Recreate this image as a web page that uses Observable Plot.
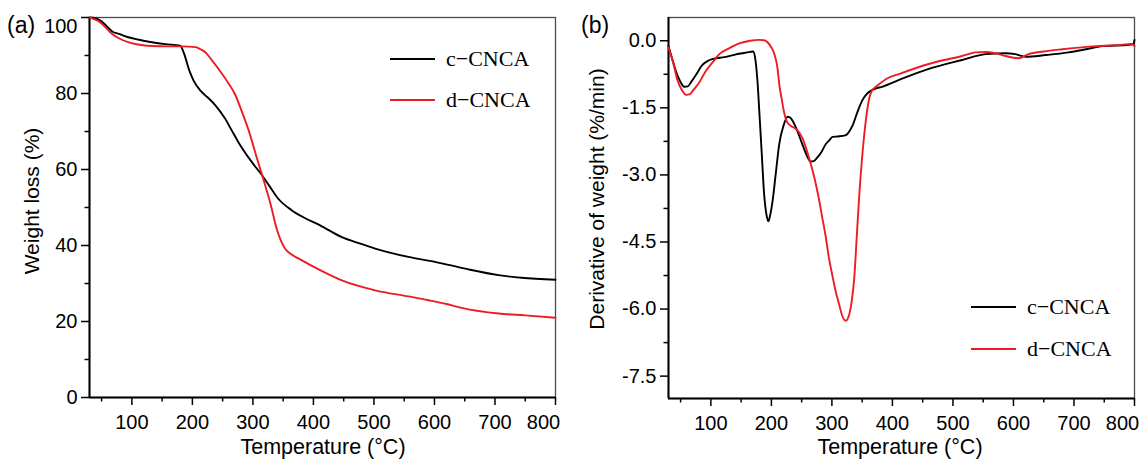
<!DOCTYPE html>
<html><head><meta charset="utf-8">
<script src="https://cdn.jsdelivr.net/npm/d3@7"></script>
<script src="https://cdn.jsdelivr.net/npm/@observablehq/plot@0.6"></script>
<style>
body{margin:0;background:#fff;}
#wrap{position:relative;width:1142px;height:461px;overflow:hidden;font-family:"Liberation Sans",Arial,sans-serif;color:#000;background:#fff;}
.panel{position:absolute;top:0;}
.lbl{position:absolute;font-size:21px;white-space:nowrap;line-height:1;}
.rot{transform:translate(-50%,-50%) rotate(-90deg);}
.leg{position:absolute;display:flex;align-items:center;height:24px;font-family:"Liberation Serif","Times New Roman",serif;font-size:22px;line-height:1;white-space:nowrap;}
.sw{display:inline-block;width:45px;height:2px;margin-right:11px;}
</style></head>
<body>
<div id="wrap"></div>
<script>
// ---------- data ----------
const seriesNames = ["c\u2212CNCA", "d\u2212CNCA"];
const seriesColors = ["#000000", "#ed1c24"];

// (a) TGA: temperature (°C) and weight (%)
const tgaTempC = [30,40,48,58,67,80,94,110,133,155,180,186,195,202,213,225,238,254,265,276,298,315,328,342,364,385,411,447,475,502,557,601,651,706,744,800];
const tgaWeightC = [100,99.8,99.2,97.8,96.4,95.6,94.8,94.2,93.5,93.0,92.6,90.6,86,83.4,80.8,79,76.9,73.4,70.3,67.2,62,58.5,55.5,52.3,49.3,47.3,45.3,42.2,40.6,39.2,37.0,35.7,33.9,32.2,31.5,31.0];
const tgaTempD = [30,45,56,67,80,94,110,133,160,183,205,214,221,232,243,262,271,279,293,306,317,329,340,347,353,362,375,411,447,502,557,590,620,645,706,750,800];
const tgaWeightD = [100,99,97.5,95.7,94.4,93.5,92.9,92.5,92.4,92.4,92.2,91.6,90.9,88.8,86.5,82.1,79.6,76.4,70.3,63.3,57.6,51.0,44.0,41,39.2,37.8,36.6,33.5,30.8,28.2,26.6,25.6,24.6,23.6,22.1,21.6,21.0];

// (b) DTG: temperature (°C) and derivative of weight (%/min)
const dtgTempC = [30,36,42,49,56,62,67,76,86,95,103,115,125,140,152,165,170,173,177,180,184,188,192,195,198,202,207,213,220,227,232,235,243,251,258,265,270,276,283,290,296,301,310,323,330,334,342,350,357,364,372,383,414,460,515,554,587,603,620,653,691,720,747,791,798,800];
const dtgRateC = [-0.12,-0.40,-0.67,-0.90,-1.03,-1.02,-0.93,-0.75,-0.54,-0.45,-0.41,-0.38,-0.36,-0.31,-0.28,-0.25,-0.24,-0.37,-0.9,-1.57,-2.5,-3.43,-3.9,-4.04,-3.9,-3.58,-3.0,-2.31,-1.9,-1.70,-1.73,-1.79,-2.02,-2.31,-2.55,-2.70,-2.69,-2.61,-2.48,-2.31,-2.22,-2.15,-2.14,-2.11,-2.0,-1.90,-1.6,-1.34,-1.2,-1.12,-1.07,-1.03,-0.86,-0.63,-0.43,-0.30,-0.28,-0.30,-0.36,-0.32,-0.26,-0.19,-0.12,-0.09,-0.08,0.02];
const dtgTempD = [30,37,45,52,59,65,70,80,92,103,114,130,147,165,180,188,194,200,205,210,213,217,221,226,232,240,246,252,257,264,271,278,284,290,295,300,306,312,317,323,328,333,337,341,345,350,356,362,366,370,380,389,414,460,515,537,555,570,587,600,609,617,625,650,681,736,770,796,800];
const dtgRateD = [-0.15,-0.45,-0.89,-1.1,-1.21,-1.2,-1.12,-0.95,-0.67,-0.48,-0.30,-0.17,-0.06,0.0,0.02,0.01,-0.04,-0.15,-0.30,-0.6,-0.97,-1.3,-1.60,-1.82,-1.90,-1.97,-2.05,-2.2,-2.39,-2.7,-3.06,-3.5,-3.95,-4.4,-4.85,-5.2,-5.59,-5.9,-6.15,-6.26,-6.15,-5.8,-5.29,-4.4,-3.50,-2.6,-1.79,-1.27,-1.12,-1.06,-0.95,-0.86,-0.73,-0.52,-0.34,-0.26,-0.25,-0.28,-0.34,-0.38,-0.39,-0.35,-0.30,-0.24,-0.19,-0.12,-0.10,-0.07,-0.12];

// axes
const xDomain = [30, 800];
const xMajor = [100,200,300,400,500,600,700,800];
const xMinor = [50,150,250,350,450,550,650,750];
const tgaYDomain = [0, 100];
const tgaYMajor = [0,20,40,60,80,100];
const tgaYMinor = [10,30,50,70,90];
const dtgYDomain = [-8.0, 0.52];
const dtgYMajor = [0,-1.5,-3.0,-4.5,-6.0,-7.5];
const dtgYMinor = [-0.75,-2.25,-3.75,-5.25,-6.75];
const xTitle = "Temperature (\u00B0C)";
const tgaYTitle = "Weight loss (%)";
const dtgYTitle = "Derivative of weight (%/min)";

const zipRows = (xs, ys) => xs.map((x, i) => ({x, y: ys[i]}));
const tgaC = zipRows(tgaTempC, tgaWeightC), tgaD = zipRows(tgaTempD, tgaWeightD);
const dtgC = zipRows(dtgTempC, dtgRateC), dtgD = zipRows(dtgTempD, dtgRateD);

const style = {fontFamily: '"Liberation Sans", Arial, sans-serif', fontSize: "20px", color: "#000", background: "transparent", overflow: "visible"};

function panel({data, yDomain, yMajor, yMinor, yFmt, m, yEdgeLabel, yEdgeDy}) {
  const yMain = yMajor.filter(d => d !== yEdgeLabel);
  return Plot.plot({
    width: 571, height: 461,
    marginLeft: m[0], marginRight: m[1], marginTop: m[2], marginBottom: m[3],
    x: {domain: xDomain},
    y: {domain: yDomain},
    style,
    marks: [
      Plot.frame({stroke: "#4a4a4a", strokeWidth: 1.3}),
      Plot.ruleX([xDomain[0]], {stroke: "#000", strokeWidth: 2}),
      Plot.ruleY([yDomain[0]], {stroke: "#000", strokeWidth: 2}),
      Plot.line(data[0], {x: "x", y: "y", stroke: seriesColors[0], strokeWidth: 1.9, curve: "monotone-x"}),
      Plot.line(data[1], {x: "x", y: "y", stroke: seriesColors[1], strokeWidth: 1.9, curve: "monotone-x"}),
      // x axis
      Plot.axisX({ticks: xMajor, tickSize: 8, tickPadding: 9, strokeWidth: 1.5, fontSize: 20, label: null,
        tickFormat: d => d === xDomain[1] ? "" : String(d)}),
      Plot.axisX({ticks: [xDomain[1]], tickSize: 0, tickPadding: 17, dx: -12, fontSize: 20, label: null, tickFormat: d => String(d)}),
      Plot.axisX({ticks: xMinor, tickSize: 4.5, strokeWidth: 1.5, label: null, tickFormat: () => ""}),
      // y axis
      Plot.axisY({ticks: yMajor, tickSize: 8, tickPadding: 4, strokeWidth: 1.5, fontSize: 20, label: null,
        tickFormat: d => yMain.includes(d) ? yFmt(d) : ""}),
      ...(yEdgeLabel != null ? [Plot.axisY({ticks: [yEdgeLabel], tickSize: 0, tickPadding: 12, dy: yEdgeDy, fontSize: 20, label: null, tickFormat: yFmt})] : []),
      Plot.axisY({ticks: yMinor, tickSize: 4.5, strokeWidth: 1.5, label: null, tickFormat: () => ""})
    ]
  });
}

const wrap = document.getElementById("wrap");

const left = panel({data: [tgaC, tgaD], yDomain: tgaYDomain, yMajor: tgaYMajor, yMinor: tgaYMinor,
  yFmt: d => String(d), m: [89, 16, 17, 64], yEdgeLabel: 100, yEdgeDy: 9});
const right = panel({data: [dtgC, dtgD], yDomain: dtgYDomain, yMajor: dtgYMajor, yMinor: dtgYMinor,
  yFmt: d => d.toFixed(1), m: [97, 8, 17, 63], yEdgeLabel: null, yEdgeDy: 0});

const pl = document.createElement("div"); pl.className = "panel"; pl.style.left = "0px"; pl.appendChild(left); wrap.appendChild(pl);
const pr = document.createElement("div"); pr.className = "panel"; pr.style.left = "571px"; pr.appendChild(right); wrap.appendChild(pr);

function label(text, x, y, cls, extra) {
  const d = document.createElement("div");
  d.className = "lbl " + (cls || "");
  d.textContent = text;
  d.style.left = x + "px"; d.style.top = y + "px";
  if (extra) Object.assign(d.style, extra);
  wrap.appendChild(d);
}
label("(a)", 7, 14, "", {fontSize: "23px"});
label("(b)", 581, 14, "", {fontSize: "23px"});
label(xTitle, 323, 437, "", {transform: "translateX(-50%)", fontSize: "21.5px"});
label(xTitle, 900, 437, "", {transform: "translateX(-50%)", fontSize: "21.5px"});
label(tgaYTitle, 31, 201, "rot");
label(dtgYTitle, 596, 199, "rot");

function legend(x, ys) {
  seriesNames.forEach((name, i) => {
    const d = document.createElement("div");
    d.className = "leg";
    d.style.left = x + "px"; d.style.top = (ys[i] - 12) + "px";
    const s = document.createElement("span"); s.className = "sw"; s.style.background = seriesColors[i];
    d.appendChild(s);
    d.appendChild(document.createTextNode(name));
    wrap.appendChild(d);
  });
}
legend(390, [58.7, 100]);
legend(971, [307.3, 349.3]);
</script>
</body></html>
